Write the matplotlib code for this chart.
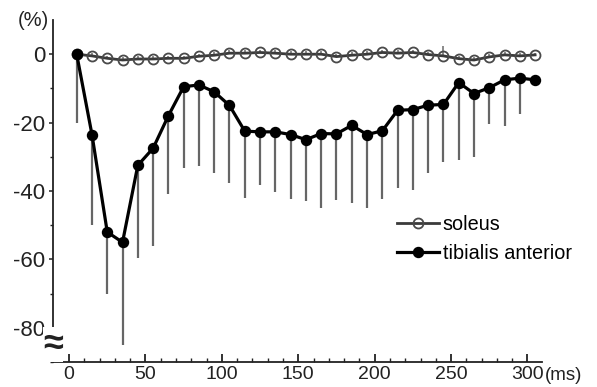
"""Recreate the soleus / tibialis anterior time-course chart."""

import matplotlib

matplotlib.use("Agg")
import matplotlib.pyplot as plt

# time points (ms)
time_ms = [5, 15, 25, 35, 45, 55, 65, 75, 85, 95, 105, 115, 125, 135, 145, 155,
           165, 175, 185, 195, 205, 215, 225, 235, 245, 255, 265, 275, 285, 295, 305]

soleus = [0, -0.5, -1.2, -1.7, -1.4, -1.4, -1.2, -1.2, -0.6, -0.3, 0.3, 0.3, 0.5, 0.3, 0.0, 0.0,
          0.0, -0.7, -0.3, 0.0, 0.5, 0.3, 0.5, -0.1, -0.5, -1.3, -1.7, -0.8, -0.2, -0.5, -0.2]
soleus_err = [0.5, 0.8, 0.8, 1.0, 0.8, 0.8, 0.8, 0.8, 0.8, 0.8, 0.8, 0.8, 0.8, 0.8, 0.8, 0.8,
              0.8, 0.8, 0.8, 0.8, 0.8, 0.8, 0.8, 0.8, 3.0, 0.8, 0.8, 0.8, 0.8, 0.8, 0.5]

tibialis = [0, -23.5, -52, -55, -32.5, -27.5, -18, -9.5, -9, -11, -15, -22.5, -22.7, -22.7, -23.5, -25,
            -23.2, -23.3, -20.8, -23.5, -22.4, -16.4, -16.2, -14.9, -14.7, -8.3, -11.5, -9.8, -7.5, -7, -7.5]
tibialis_lower = [-20, -50, -70, -85, -59.5, -56, -41, -33.3, -32.8, -34.8, -37.8, -42, -38.2, -40.2, -42.2, -42.8,
                  -45.1, -42.6, -43.4, -45.1, -42.2, -39.2, -39.7, -34.8, -31.4, -30.9, -30, -20.5, -21, -17.6, -7.5]

y_ticks = [0, -20, -40, -60, -80]
x_ticks = [0, 50, 100, 150, 200, 250, 300]

plt.rcParams["font.family"] = ["Liberation Sans", "DejaVu Sans"]
plt.rcParams["axes.unicode_minus"] = False

fig = plt.figure(figsize=(5.97, 3.87), dpi=100)
ax = fig.add_axes([53 / 597, 25 / 387, 489 / 597, 342 / 387])

tib_err = [[t - lo for t, lo in zip(tibialis, tibialis_lower)], [0] * len(tibialis)]
sol_err = [[0] * len(soleus), soleus_err]

ax.errorbar(time_ms, soleus, yerr=sol_err, fmt="none", ecolor="#777777", elinewidth=1.2,
            capsize=0, zorder=2)
ax.errorbar(time_ms, tibialis, yerr=tib_err, fmt="none", ecolor="#666666", elinewidth=1.6,
            capsize=0, zorder=2)
ax.plot(time_ms, soleus, color="#3a3a3a", lw=2.0, marker="o", ms=7.2,
        mfc="none", mec="#4a4a4a", mew=1.3, label="soleus", zorder=3)
ax.plot(time_ms, tibialis, color="black", lw=2.3, marker="o", ms=7.2,
        mfc="black", mec="black", label="tibialis anterior", zorder=4)

ax.set_xlim(-10.5, 309.5)
ax.set_ylim(-90, 10)
ax.spines["top"].set_visible(False)
ax.spines["right"].set_visible(False)
for side in ("left", "bottom"):
    ax.spines[side].set_linewidth(1.3)
    ax.spines[side].set_color("#222222")

ax.set_yticks(y_ticks)
ax.set_yticks(range(-90, 1, 10), minor=True)
ax.set_xticks(x_ticks)
ax.set_xticks(range(0, 301, 10), minor=True)
ax.tick_params(axis="y", which="major", direction="out", length=3, width=1.1,
               labelsize=16, pad=2.5, colors="#222222")
ax.tick_params(axis="y", which="minor", direction="out", length=2.5, width=1.0, colors="#222222")
ax.tick_params(axis="x", which="major", direction="in", length=6, width=1.3,
               labelsize=14, pad=2.8, colors="#222222")
ax.tick_params(axis="x", which="minor", direction="in", length=3, width=1.0, colors="#222222")

# axis break mark and unit labels
ax.text(-10.5, -85, "\u2248", transform=ax.transData, ha="center", va="center",
        fontsize=26, fontweight="bold", color="#222222", clip_on=False,
        bbox=dict(boxstyle="square,pad=0.0", fc="white", ec="none"), zorder=5)
fig.text(18 / 597, 1 - 20 / 387, "(%)", ha="left", va="center", fontsize=14.5, color="#222222")
fig.text(545 / 597, 1 - 376 / 387, "(ms)", ha="left", va="center", fontsize=13.5, color="#222222")

ax.legend(loc="upper left", bbox_to_anchor=(397 / 597, 1 - 215 / 387),
          bbox_transform=fig.transFigure, frameon=False, fontsize=14.3,
          handlelength=2.1, handletextpad=0.2, labelspacing=0.5,
          borderpad=0, borderaxespad=0)

fig.savefig("out.png", dpi=100)
